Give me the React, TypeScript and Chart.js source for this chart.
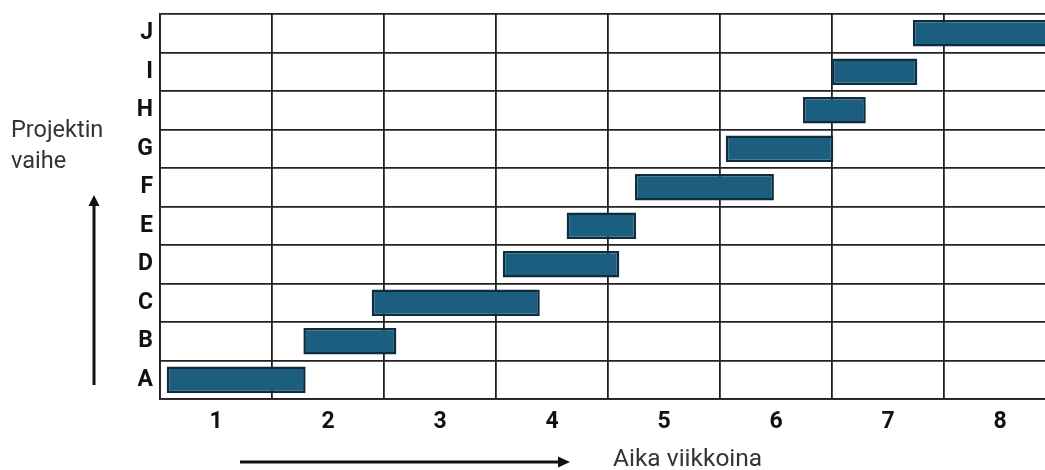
import React, { useEffect, useRef } from "react";
import { Chart, registerables } from "chart.js";

Chart.register(...registerables);

const phases = ["A", "B", "C", "D", "E", "F", "G", "H", "I", "J"];
const startWeeks = [0.56, 1.78, 2.39, 3.56, 4.13, 4.74, 5.55, 6.24, 6.5, 7.22];
const endWeeks = [1.8, 2.61, 3.89, 4.6, 4.75, 5.98, 6.51, 6.8, 7.26, 8.6];
const weekTicks = [1, 2, 3, 4, 5, 6, 7, 8];
const yTitleLines = ["Projektin", "vaihe"];
const xTitle = "Aika viikkoina";

const annotations = {
  id: "annotations",
  afterDraw(chart: any) {
    const ctx = chart.ctx;
    ctx.save();
    ctx.fillStyle = "#333333";
    ctx.font = "23.5px Roboto";
    ctx.textAlign = "left";
    ctx.textBaseline = "alphabetic";
    ctx.fillText(yTitleLines[0], 11, 137);
    ctx.fillText(yTitleLines[1], 11, 168);
    ctx.font = "24.5px Roboto";
    ctx.fillText(xTitle, 613, 466);

    ctx.strokeStyle = "#111111";
    ctx.fillStyle = "#111111";
    ctx.lineWidth = 3;
    // vertical arrow
    ctx.beginPath();
    ctx.moveTo(94, 385);
    ctx.lineTo(94, 204);
    ctx.stroke();
    ctx.beginPath();
    ctx.moveTo(94, 195);
    ctx.lineTo(88.5, 206);
    ctx.lineTo(99.5, 206);
    ctx.closePath();
    ctx.fill();
    // horizontal arrow
    ctx.beginPath();
    ctx.moveTo(240, 462);
    ctx.lineTo(560, 462);
    ctx.stroke();
    ctx.beginPath();
    ctx.moveTo(570, 462);
    ctx.lineTo(558, 456.5);
    ctx.lineTo(558, 467.5);
    ctx.closePath();
    ctx.fill();
    ctx.restore();
  },
};

export default function App() {
  const ref = useRef<HTMLCanvasElement>(null);
  useEffect(() => {
    if (!ref.current) return;
    const chart = new Chart(ref.current, {
      type: "bar",
      data: {
        labels: phases,
        datasets: [
          {
            data: phases.map((_, i) => [startWeeks[i], endWeeks[i]]) as any,
            backgroundColor: "#1b5e7f",
            borderColor: "#0f2c3c",
            borderWidth: 2.5,
            borderSkipped: false,
            barPercentage: 0.69,
            categoryPercentage: 1,
          },
        ],
      },
      options: {
        indexAxis: "y",
        responsive: false,
        animation: false,
        layout: { padding: { top: 14, left: 0, right: 0, bottom: 0 } },
        plugins: {
          legend: { display: false },
          tooltip: { enabled: false },
        },
        scales: {
          x: {
            type: "linear",
            min: 0.5,
            max: 8.4,
            afterBuildTicks: (scale: any) => {
              scale.ticks = weekTicks.map((v) => ({ value: v }));
            },
            afterFit: (scale: any) => {
              scale.height = 71;
              scale.paddingLeft = 0;
              scale.paddingRight = 0;
            },
            grid: {
              offset: true,
              color: "#222222",
              lineWidth: 1.8,
              drawTicks: false,
            },
            border: { display: true, color: "#222222", width: 1.8 },
            ticks: {
              padding: 9,
              color: "#111111",
              font: { family: "Roboto", size: 23, weight: "bold" },
              callback: (v: any) => String(v),
            },
          },
          y: {
            type: "category",
            reverse: true,
            offset: true,
            afterFit: (scale: any) => {
              scale.width = 160;
              scale.paddingTop = 0;
              scale.paddingBottom = 0;
            },
            grid: {
              offset: true,
              color: "#222222",
              lineWidth: 1.8,
              drawTicks: false,
            },
            border: { display: true, color: "#222222", width: 1.8 },
            ticks: {
              padding: 7,
              color: "#111111",
              font: { family: "Roboto", size: 23, weight: "bold" },
            },
          },
        },
      },
      plugins: [annotations],
    });
    return () => chart.destroy();
  }, []);
  return (
    <div style={{ position: "absolute", left: 0, top: 0, width: 1045, height: 470, background: "#ffffff" }}>
      <canvas ref={ref} width={1045} height={470} style={{ width: 1045, height: 470 }} />
    </div>
  );
}
